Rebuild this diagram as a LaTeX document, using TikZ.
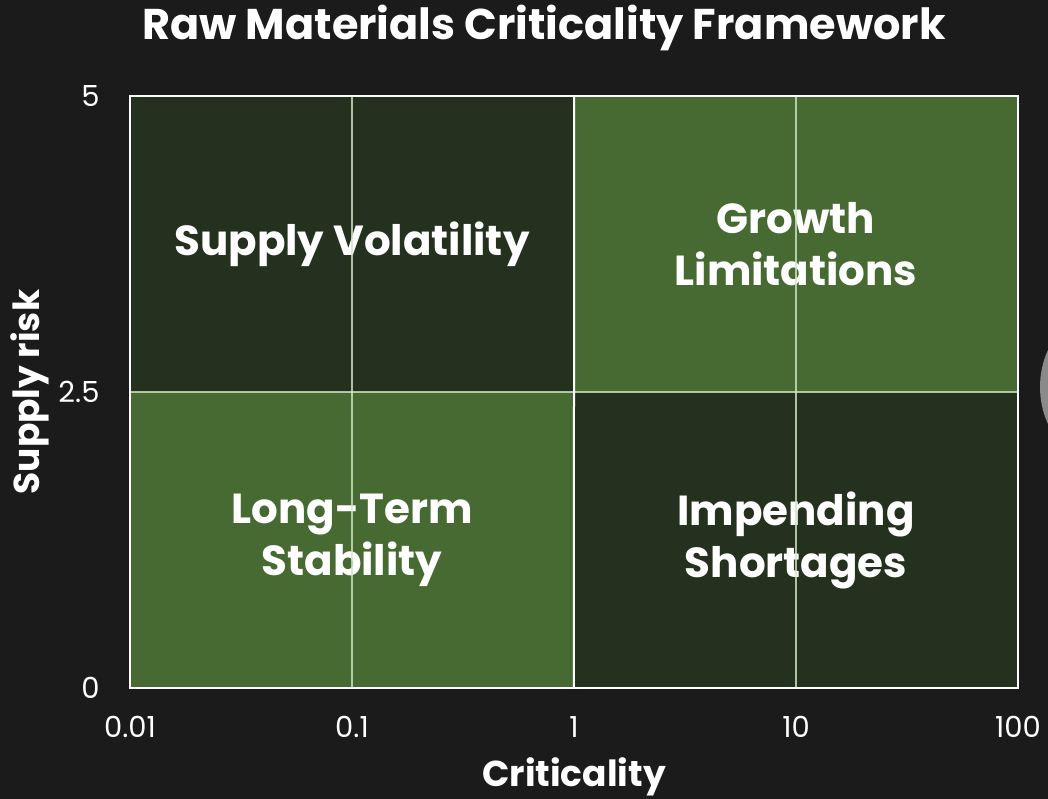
\documentclass[tikz,border=0pt]{standalone}
\usepackage{fontspec}
\setmainfont{Poppins}
\usetikzlibrary{positioning, calc}
\definecolor{bgcol}{HTML}{1B1B1B}
\definecolor{darkq}{HTML}{24311E}
\definecolor{lightq}{HTML}{476A33}
\definecolor{gridc}{HTML}{CFE8C4}
\definecolor{blobc}{HTML}{8A8A8A}
\tikzset{
    quad/.style={
        rectangle,
        inner sep=0pt,
        minimum width=444pt,
        minimum height=296pt,
        text=white,
        align=center,
        font=\bfseries\fontsize{42}{52}\selectfont,
    },
    ticklabel/.style={
        text=white,
        font=\fontsize{29}{34}\selectfont,
    },
    axislabel/.style={
        text=white,
        font=\bfseries\fontsize{36}{40}\selectfont,
    },
}

\begin{document}
\begin{tikzpicture}[x=1pt, y=-1pt]
      \useasboundingbox (0,0) rectangle (1048,799);
      \clip (0,0) rectangle (1048,799);
      \fill[bgcol] (0,0) rectangle (1048,799);
      \fill[blobc] (1130,387) circle (90);

      \node[text=white, font=\bfseries\fontsize{43}{50}\selectfont] (title) at (544,28) {Raw Materials Criticality Framework};

      \node[quad, fill=darkq] (sv) at (352,244) {Supply Volatility};
      \node[quad, fill=lightq] (gl) at (796,244) {Growth\\Limitations};
      \node[quad, fill=lightq] (lt) at (352,540) {Long-Term\\Stability};
      \node[quad, fill=darkq] (is) at (796,540) {Impending\\Shortages};

      \draw[gridc, opacity=0.8, line width=2pt] (sv.north) -- (lt.south);
      \draw[gridc, opacity=0.8, line width=2pt] (gl.north) -- (is.south);
      \draw[gridc, opacity=0.8, line width=2pt] (sv.south west) -- (gl.south east);
      \draw[white, line width=2pt] (sv.north east) -- (is.south west);
      \draw[white, line width=2pt] (sv.north west) rectangle (is.south east);

      \node[ticklabel, anchor=east] (y5) at (103,96) {5};
      \node[ticklabel, anchor=east] (y25) at (103,392) {2.5};
      \node[ticklabel, anchor=east] (y0) at (103,688) {0};

      \node[ticklabel] (x001) at (130,727) {0.01};
      \node[ticklabel] (x01) at (352,727) {0.1};
      \node[ticklabel] (x1) at (574,727) {1};
      \node[ticklabel] (x10) at (796,727) {10};
      \node[ticklabel] (x100) at (1018,727) {100};

      \node[axislabel] (xlab) at (574,777) {Criticality};
      \node[axislabel, rotate=90] (ylab) at (30,392) {Supply risk};
\end{tikzpicture}
\end{document}
